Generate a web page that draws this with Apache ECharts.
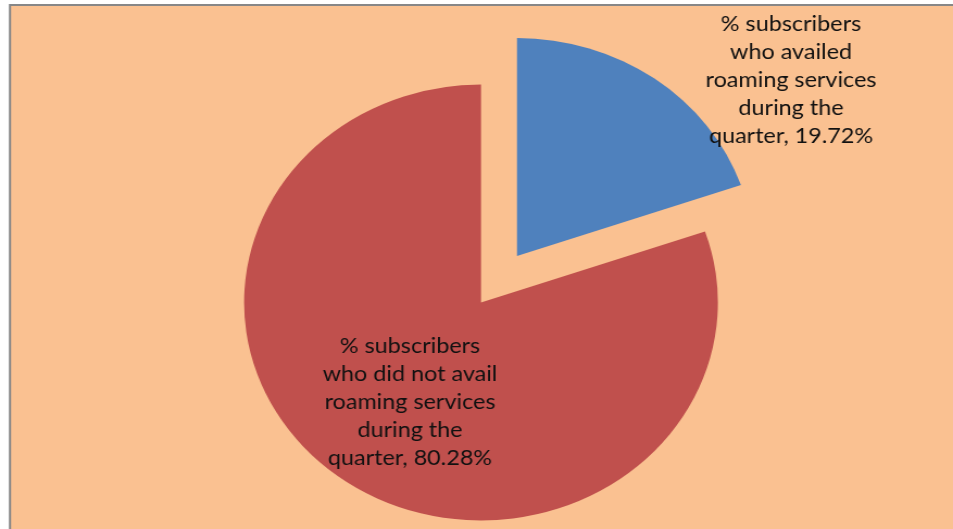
<!DOCTYPE html>
<html>
<head>
<meta charset="utf-8">
<script src="https://cdn.jsdelivr.net/npm/echarts@6/dist/echarts.min.js"></script>
<style>
html,body{margin:0;padding:0;background:#ffffff;overflow:hidden;}
#wrap{position:absolute;left:0;top:0;width:953px;height:529px;overflow:hidden;}
#chart{position:absolute;left:0;top:0;width:877px;height:529px;transform-origin:0 0;transform:scaleX(1.08666);}
</style>
</head>
<body>
<div id="wrap"><div id="chart"></div></div>
<script>
// Data
var categories = [
  '% subscribers\nwho availed\nroaming services\nduring the\nquarter',
  '% subscribers\nwho did not avail\nroaming services\nduring the\nquarter'
];
var values = [19.72, 80.28];
var colors = ['#4F81BD', '#C0504D'];
var exploded = [true, false];

var S = 953 / 877; // horizontal stretch of the original picture
var CX = 481 / S, CY = 302.5, R = 218, EXPLODE = 57;

var total = values.reduce(function (a, b) { return a + b; }, 0);

function labelFmt(p) { return p.name + ', ' + p.value.toFixed(2) + '%'; }

// One pie series per slice so that the exploded slice can be drawn at an offset centre.
var series = categories.map(function (name, k) {
  // mid angle of slice k (clockwise from top)
  var before = 0;
  for (var j = 0; j < k; j++) before += values[j];
  var mid = (before + values[k] / 2) / total * 2 * Math.PI;
  var off = exploded[k] ? EXPLODE : 0;
  var cx = CX + off * Math.sin(mid);
  var cy = CY - off * Math.cos(mid);
  return {
    type: 'pie',
    center: [cx, cy],
    radius: [0, R],
    startAngle: 90,
    clockwise: true,
    avoidLabelOverlap: false,
    silent: true,
    emphasis: { disabled: true },
    itemStyle: { borderWidth: 0 },
    labelLine: { show: false },
    label: {
      show: true,
      position: 'inside',
      formatter: labelFmt,
      fontFamily: 'Lato',
      fontSize: 21.5,
      lineHeight: 28,
      color: '#111111',
      align: 'center'
    },
    labelLayout: k === 0
      ? function () { return { x: 791 / S, y: 80, align: 'center', verticalAlign: 'middle' }; }
      : function () { return { x: 410 / S, y: 402, align: 'center', verticalAlign: 'middle' }; },
    data: categories.map(function (n, i) {
      return i === k
        ? { name: n, value: values[i], itemStyle: { color: colors[i] } }
        : { name: n, value: values[i], itemStyle: { color: 'rgba(0,0,0,0)' }, label: { show: false } };
    })
  };
});

var chart = echarts.init(document.getElementById('chart'), null, {renderer: 'canvas'});
chart.setOption({
  animation: false,
  backgroundColor: '#ffffff',
  graphic: [{
    type: 'rect',
    z: -10,
    silent: true,
    shape: { x: 10 / S, y: 5, width: 1200, height: 800 },
    style: { fill: '#FAC191', stroke: '#878787', lineWidth: 2 }
  }],
  series: series
});
</script>
</body>
</html>
